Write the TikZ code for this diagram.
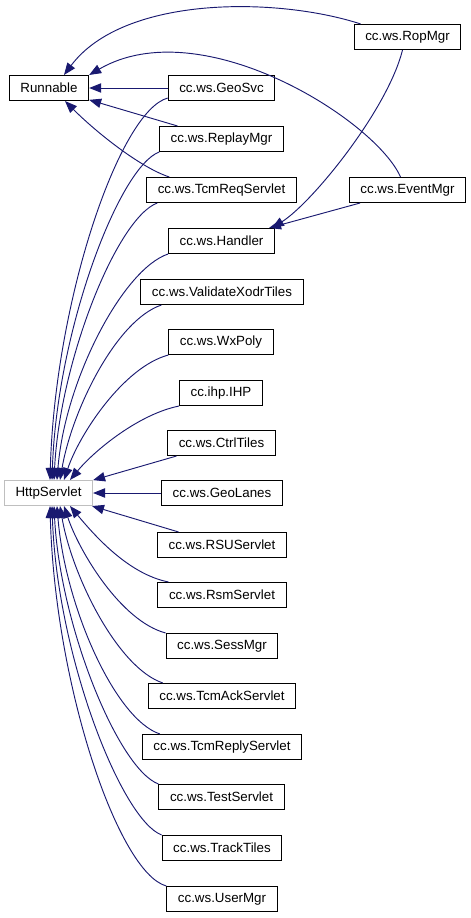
\documentclass[tikz,border=0pt]{standalone}
\usepackage{fontspec}
\setmainfont{Liberation Sans}
\usepackage{tikz}
\usetikzlibrary{arrows.meta}
\usepackage{xcolor}
\definecolor{edgeblue}{RGB}{25,25,112}
\definecolor{extgray}{RGB}{191,191,191}

\begin{document}
\begin{tikzpicture}[x=0.75pt,y=-0.75pt,
  cls/.style={draw=black,line width=0.8pt,fill=white,minimum height=18.75pt,inner xsep=8.3pt,inner ysep=0pt,font=\fontsize{10}{12}\selectfont},
  inh/.style={draw=edgeblue,line width=0.7pt,-{Triangle[length=9pt,width=7pt]}}]
\useasboundingbox (0,0) rectangle (471,918);
% classes
\node[cls] (runnable) at (49,88) {Runnable};
\node[cls,draw=extgray] (httpservlet) at (48.5,493) {HttpServlet};
\node[cls] (ropmgr) at (407.5,37) {cc.ws.RopMgr};
\node[cls] (eventmgr) at (407.5,190) {cc.ws.EventMgr};
\node[cls] (geosvc) at (221.5,88) {cc.ws.GeoSvc};
\node[cls] (replaymgr) at (221.5,139) {cc.ws.ReplayMgr};
\node[cls] (tcmreq) at (221.5,190) {cc.ws.TcmReqServlet};
\node[cls] (handler) at (221.5,241) {cc.ws.Handler};
\node[cls] (validate) at (222,292) {cc.ws.ValidateXodrTiles};
\node[cls] (wxpoly) at (221,342) {cc.ws.WxPoly};
\node[cls] (ihp) at (221,393) {cc.ihp.IHP};
\node[cls] (ctrltiles) at (221.5,443) {cc.ws.CtrlTiles};
\node[cls] (geolanes) at (222,493) {cc.ws.GeoLanes};
\node[cls] (rsu) at (222,545) {cc.ws.RSUServlet};
\node[cls] (rsm) at (222,595) {cc.ws.RsmServlet};
\node[cls] (sessmgr) at (222,646) {cc.ws.SessMgr};
\node[cls] (tcmack) at (222,696) {cc.ws.TcmAckServlet};
\node[cls] (tcmreply) at (222,747) {cc.ws.TcmReplyServlet};
\node[cls] (testservlet) at (221.5,797) {cc.ws.TestServlet};
\node[cls] (tracktiles) at (222,848) {cc.ws.TrackTiles};
\node[cls] (usermgr) at (222,899) {cc.ws.UserMgr};

% Runnable
\draw[inh] ([shift={(7,0)}]ropmgr.north west) .. controls +(-83,-27) and +(60,-80) .. ([shift={(15,0)}]runnable.north);
\draw[inh] ([shift={(-7,0)}]eventmgr.north) .. controls +(-25,-57) and +(112,-65) .. (runnable.north east);
\draw[inh] (geosvc) -- (runnable);
\draw[inh] (replaymgr) -- (runnable);
\draw[inh] ([shift={(23,0)}]tcmreq.north west) .. controls +(-30,-10) and +(30,30) .. ([shift={(16,0)}]runnable.south);

% Handler
\draw[inh] ([shift={(-5,0)}]ropmgr.south) .. controls +(-15,60) and +(40,-25) .. ([shift={(-3,0)}]handler.north east);
\draw[inh] (eventmgr) -- (handler);

% HttpServlet, from above
\draw[inh] ([shift={(0,-3)}]geosvc.south west) .. controls +(-48,13) and +(5,-180) .. ([shift={(1.5,0)}]httpservlet.north);
\draw[inh] (replaymgr.south west) .. controls +(-40,15) and +(5,-150) .. ([shift={(3.5,0)}]httpservlet.north);
\draw[inh] ([shift={(11,0)}]tcmreq.south west) .. controls +(-40,15) and +(6,-120) .. ([shift={(5.5,0)}]httpservlet.north);
\draw[inh] (handler.south west) .. controls +(-45,15) and +(8,-100) .. ([shift={(8.5,0)}]httpservlet.north);
\draw[inh] ([shift={(21,0)}]validate.south west) .. controls +(-45,15) and +(12,-70) .. ([shift={(11.5,0)}]httpservlet.north);
\draw[inh] (wxpoly.south west) .. controls +(-45,12) and +(15,-45) .. ([shift={(15.5,0)}]httpservlet.north);
\draw[inh] (ihp.south west) .. controls +(-40,8) and +(25,-30) .. ([shift={(21.5,0)}]httpservlet.north);
\draw[inh] (ctrltiles) -- (httpservlet);
\draw[inh] (geolanes) -- (httpservlet);
\draw[inh] (rsu) -- (httpservlet);

% HttpServlet, from below
\draw[inh] ([shift={(11,0)}]rsm.north west) .. controls +(-40,-8) and +(25,30) .. ([shift={(21.5,0)}]httpservlet.south);
\draw[inh] (sessmgr.north west) .. controls +(-45,-12) and +(15,45) .. ([shift={(15.5,0)}]httpservlet.south);
\draw[inh] ([shift={(15,0)}]tcmack.north west) .. controls +(-45,-15) and +(12,70) .. ([shift={(11.5,0)}]httpservlet.south);
\draw[inh] ([shift={(18,0)}]tcmreply.north west) .. controls +(-45,-15) and +(8,100) .. ([shift={(8.5,0)}]httpservlet.south);
\draw[inh] (testservlet.north west) .. controls +(-40,-15) and +(6,120) .. ([shift={(5.5,0)}]httpservlet.south);
\draw[inh] (tracktiles.north west) .. controls +(-40,-15) and +(5,150) .. ([shift={(3.5,0)}]httpservlet.south);
\draw[inh] (usermgr.north west) .. controls +(-48,-13) and +(5,180) .. ([shift={(1.5,0)}]httpservlet.south);
\end{tikzpicture}
\end{document}
